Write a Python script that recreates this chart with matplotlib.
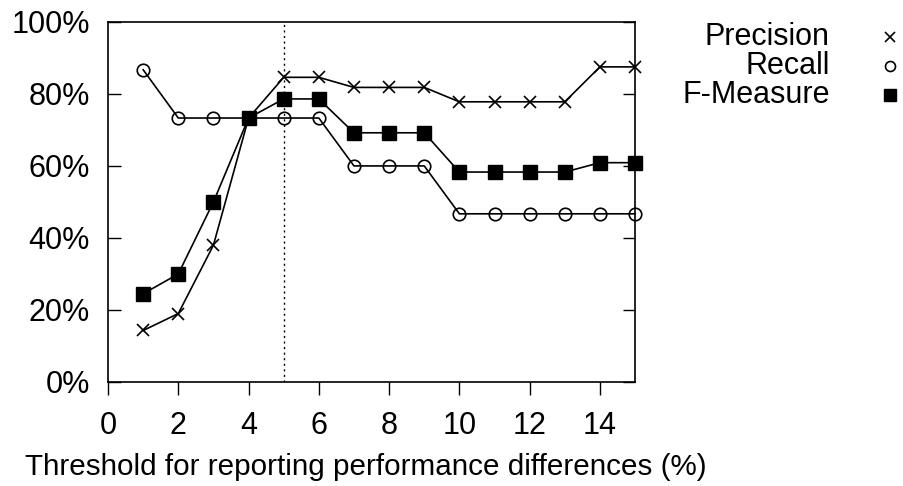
import matplotlib
matplotlib.use('Agg')
import matplotlib.pyplot as plt
from matplotlib.lines import Line2D

# data
thresholds = list(range(1, 16))
precision = [14.3, 19.0, 38.0, 73.3, 84.6, 84.6, 81.8, 81.8, 81.8, 77.8, 77.8, 77.8, 77.8, 87.5, 87.5]
recall = [86.7, 73.3, 73.3, 73.3, 73.3, 73.3, 60.0, 60.0, 60.0, 46.7, 46.7, 46.7, 46.7, 46.7, 46.7]
f_measure = [24.5, 30.0, 50.0, 73.3, 78.6, 78.6, 69.2, 69.2, 69.2, 58.3, 58.3, 58.3, 58.3, 60.9, 60.9]
chosen_threshold = 5
x_ticks = list(range(0, 15, 2))
y_ticks = [0, 20, 40, 60, 80, 100]
series_names = ['Precision', 'Recall', 'F-Measure']

plt.rcParams['font.family'] = ['Liberation Sans', 'DejaVu Sans']
plt.rcParams['font.size'] = 22

fig = plt.figure(figsize=(9.04, 4.86), dpi=100)
ax = fig.add_axes([0.1195, 0.214, 0.583, 0.741])

styles = [
    dict(marker='x', markersize=9, markeredgewidth=1.2, markerfacecolor='none'),
    dict(marker='o', markersize=9, markeredgewidth=1.2, markerfacecolor='none'),
    dict(marker='s', markersize=10, markeredgewidth=1.0, markerfacecolor='black'),
]
for vals, st in zip([precision, recall, f_measure], styles):
    ax.plot(thresholds, vals, color='black', linewidth=1.2, markeredgecolor='black',
            clip_on=False, **st)

ax.axvline(chosen_threshold, color='black', linestyle=(0, (1.5, 2.5)), linewidth=1.0)

ax.set_xlim(0, 15)
ax.set_ylim(0, 100)
ax.set_xticks(x_ticks)
ax.set_yticks(y_ticks)
ax.set_yticklabels([f'{v}%' for v in y_ticks])
ax.tick_params(axis='y', direction='in', left=True, right=True, length=9, width=1.0, pad=13)
ax.tick_params(axis='x', direction='out', bottom=True, top=False, length=9, width=1.0, pad=12)
for s in ax.spines.values():
    s.set_linewidth(1.2)
ax.set_xlabel('Threshold for reporting performance differences (%)', fontsize=21.3)
ax.xaxis.set_label_coords(0.49, -0.197)

# legend drawn by hand: text right aligned, marker on the right
legend_y = [0.924, 0.864, 0.805]
for name, st, y in zip(series_names, styles, legend_y):
    fig.text(0.918, y, name, ha='right', va='center')
    small = dict(st)
    small['markersize'] = st['markersize'] * 0.8
    fig.add_artist(Line2D([0.984], [y], color='black', linestyle='none',
                          markeredgecolor='black', transform=fig.transFigure, **small))

fig.savefig('out.png', dpi=100)
